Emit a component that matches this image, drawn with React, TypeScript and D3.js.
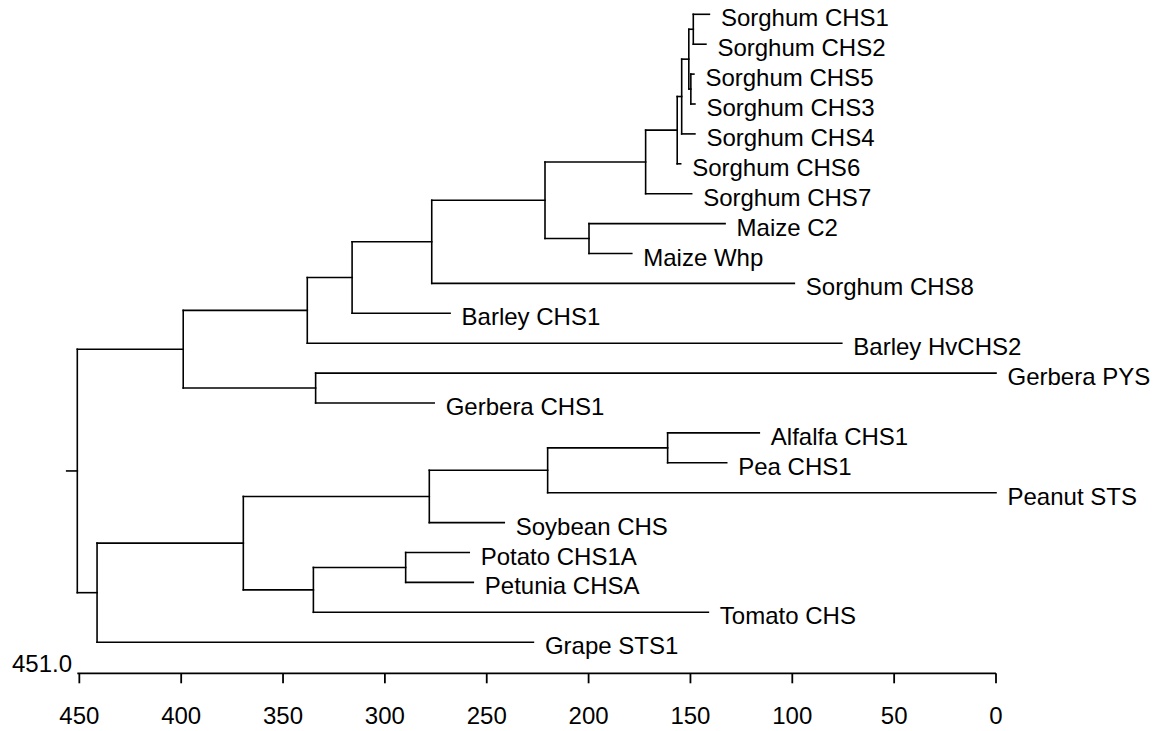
import React from "react";
import * as d3 from "d3";

const leafNames = [
  "Sorghum CHS1", "Sorghum CHS2", "Sorghum CHS5", "Sorghum CHS3", "Sorghum CHS4",
  "Sorghum CHS6", "Sorghum CHS7", "Maize C2", "Maize Whp", "Sorghum CHS8",
  "Barley CHS1", "Barley HvCHS2", "Gerbera PYS", "Gerbera CHS1", "Alfalfa CHS1",
  "Pea CHS1", "Peanut STS", "Soybean CHS", "Potato CHS1A", "Petunia CHSA",
  "Tomato CHS", "Grape STS1",
];
const leafHeights = [
  140.7, 142.4, 148.3, 147.8, 147.8,
  154.8, 149.4, 133.0, 178.8, 99.0,
  268.0, 75.7, 0, 275.8, 116.2,
  132.2, 0, 241.4, 258.6, 256.6,
  141.2, 227.1,
];

const nodeNames = [
  "n1", "n2", "n3", "n4", "n5", "n6", "n7", "n8", "n9", "n10",
  "n11", "n12", "n13", "n14", "n15", "n16", "n17", "n18", "n19", "n20", "root",
];
const nodeHeights = [
  148.6, 149.8, 150.8, 154.3, 156.5, 172.0, 199.8, 221.4, 277.0, 316.1,
  338.1, 334.0, 399.0, 161.2, 220.1, 278.2, 289.8, 335.1, 369.5, 441.3, 451.0,
];
const nodeChildren = [
  ["Sorghum CHS1", "Sorghum CHS2"],
  ["Sorghum CHS5", "Sorghum CHS3"],
  ["n1", "n2"],
  ["n3", "Sorghum CHS4"],
  ["n4", "Sorghum CHS6"],
  ["n5", "Sorghum CHS7"],
  ["Maize C2", "Maize Whp"],
  ["n6", "n7"],
  ["n8", "Sorghum CHS8"],
  ["n9", "Barley CHS1"],
  ["n10", "Barley HvCHS2"],
  ["Gerbera PYS", "Gerbera CHS1"],
  ["n11", "n12"],
  ["Alfalfa CHS1", "Pea CHS1"],
  ["n14", "Peanut STS"],
  ["n15", "Soybean CHS"],
  ["Potato CHS1A", "Petunia CHSA"],
  ["n17", "Tomato CHS"],
  ["n16", "n18"],
  ["n19", "Grape STS1"],
  ["n13", "n20"],
];

const axisTicks = [450, 400, 350, 300, 250, 200, 150, 100, 50, 0];
const rootLabel = "451.0";

type TNode = { name: string; h: number; children?: TNode[]; leafIndex?: number };

function buildTree(name: string): TNode {
  const ni = nodeNames.indexOf(name);
  if (ni >= 0) {
    return { name, h: nodeHeights[ni], children: nodeChildren[ni].map(buildTree) };
  }
  const li = leafNames.indexOf(name);
  return { name, h: leafHeights[li], leafIndex: li };
}

export default function App() {
  const W = 1159, H = 731;
  const x = d3.scaleLinear().domain([451, 0]).range([77.3, 996]);
  const y = d3.scaleLinear().domain([0, leafNames.length - 1]).range([14.3, 642.2]);
  const root = d3.hierarchy<TNode>(buildTree("root"), (d) => d.children);

  // compute y positions bottom-up
  const yPos = new Map<any, number>();
  root.eachAfter((n) => {
    if (!n.children) yPos.set(n, y(n.data.leafIndex!));
    else {
      const c = n.children;
      yPos.set(n, (yPos.get(c[0])! + yPos.get(c[c.length - 1])!) / 2);
    }
  });

  const lines: JSX.Element[] = [];
  const labels: JSX.Element[] = [];
  let k = 0;
  root.each((n) => {
    const nx = x(n.data.h);
    if (n.children) {
      const c = n.children;
      lines.push(
        <line key={k++} x1={nx} x2={nx} y1={yPos.get(c[0])} y2={yPos.get(c[c.length - 1])} />
      );
      c.forEach((ch) => {
        lines.push(
          <line key={k++} x1={nx} x2={x(ch.data.h)} y1={yPos.get(ch)} y2={yPos.get(ch)} />
        );
      });
    } else {
      labels.push(
        <text key={k++} x={nx + 11.5} y={yPos.get(n)! + 12}>
          {n.data.name}
        </text>
      );
    }
  });
  const rx = x(root.data.h);
  const ry = yPos.get(root)!;
  lines.push(<line key={k++} x1={rx - 10.6} x2={rx} y1={ry} y2={ry} />);

  const axisY = 673.3;

  return (
    <svg
      width={W}
      height={H}
      style={{ position: "absolute", left: 0, top: 0, background: "#fff" }}
      fontFamily="'Liberation Sans', Arial, sans-serif"
      fontSize={24}
    >
      <g stroke="#000" strokeWidth={1.6} strokeLinecap="square" fill="none">
        {lines}
      </g>
      <g fill="#000">{labels}</g>
      <g>
        <line x1={x(451)} x2={x(0)} y1={axisY} y2={axisY} stroke="#000" strokeWidth={1.8} />
        {axisTicks.map((t) => (
          <g key={t}>
            <line x1={x(t)} x2={x(t)} y1={axisY} y2={axisY + 10} stroke="#000" strokeWidth={1.8} />
            <text x={x(t)} y={724} textAnchor="middle" fill="#000">
              {t}
            </text>
          </g>
        ))}
        <text x={72} y={672} textAnchor="end" fill="#000">
          {rootLabel}
        </text>
      </g>
    </svg>
  );
}
